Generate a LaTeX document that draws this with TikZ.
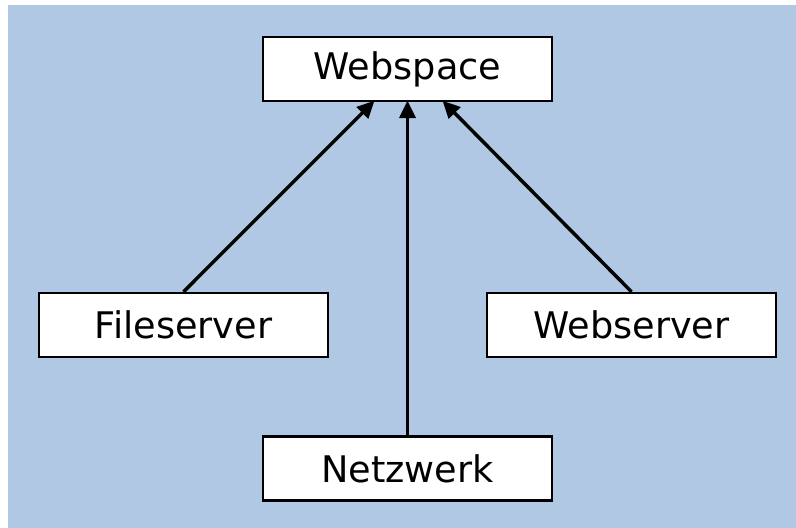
\documentclass[tikz,border=0pt]{standalone}
\usepackage{fontspec}
\setmainfont{DejaVu Sans}
\usetikzlibrary{calc,arrows.meta}
\definecolor{bgblue}{RGB}{176,200,228}
\tikzset{
  box/.style={draw=black,line width=1.8pt,fill=white,minimum width=216.75pt,minimum height=48pt,inner sep=0pt},
  link/.style={line width=2.6pt,-{Triangle[length=13pt,width=12pt]}}
}
\begin{document}
\begin{tikzpicture}[x=0.75pt,y=-0.75pt,font=\fontsize{27.5}{32}\selectfont]
                \useasboundingbox (0,0) rectangle (796,528);
                \fill[bgblue] (8,5) rectangle (796,528);
                \node[box] (ws) at (407.5,69) {Webspace};
                \node[box] (fs) at (183.5,325) {Fileserver};
                \node[box] (wb) at (631.5,325) {Webserver};
                \node[box] (nw) at (407.5,468.5) {Netzwerk};
                \draw[link] (fs.north) -- ($(ws.south)+(-33,-1.5)$);
                \draw[link] (nw.north) -- ($(ws.south)+(0,-1.5)$);
                \draw[link] (wb.north) -- ($(ws.south)+(35,-1.5)$);
            \end{tikzpicture}
\end{document}
